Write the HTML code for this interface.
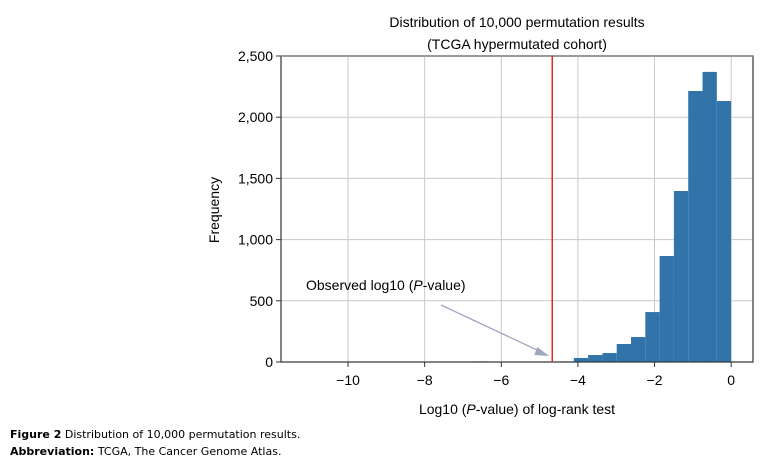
<!DOCTYPE html>
<html><head><meta charset="utf-8"><style>
body{margin:0;background:#fff;}
svg{display:block;font-family:"Liberation Sans",Arial,sans-serif;}
</style></head><body>
<svg id="chart" width="762" height="463" viewBox="0 0 762 463">
<g id="grid"></g><g id="bars"></g><g id="axes"></g>
<text x="517" y="27" font-size="14" text-anchor="middle">Distribution of 10,000 permutation results</text>
<text x="517" y="49" font-size="14" text-anchor="middle">(TCGA hypermutated cohort)</text>
<text x="517" y="414" font-size="14" text-anchor="middle">Log10 (<tspan font-style="italic">P</tspan>-value) of log-rank test</text>
<text transform="translate(219,210) rotate(-90)" font-size="14" text-anchor="middle">Frequency</text>
<text x="306" y="290" font-size="14">Observed log10 (<tspan font-style="italic">P</tspan>-value)</text>
<text x="10" y="438" font-size="11" font-family="'DejaVu Sans',sans-serif"><tspan font-weight="bold">Figure 2</tspan> Distribution of 10,000 permutation results.</text>
<text x="10" y="455" font-size="11" font-family="'DejaVu Sans',sans-serif"><tspan font-weight="bold">Abbreviation:</tspan> TCGA, The Cancer Genome Atlas.</text>
</svg>
<script>
const binStart = -11.2;
const binWidth = 0.3733;
const counts = [0,0,0,0,0,0,0,0,0,0,0,0,5,0,0,0,3,0,5,33,57,73,147,204,408,866,1397,2214,2370,2132];
const xTicks = [-10,-8,-6,-4,-2,0];
const xTickLabels = ["\u221210","\u22128","\u22126","\u22124","\u22122","0"];
const yTicks = [0,500,1000,1500,2000,2500];
const yTickLabels = ["0","500","1,000","1,500","2,000","2,500"];
const observed = [-4.67];

{
const L=281,R=753,T=56,B=362;
const xMin=-11.75,xMax=0.57,yMax=2500;
const xs=v=>L+(v-xMin)/(xMax-xMin)*(R-L);
const ys=v=>B-v/yMax*(B-T);
const NS="http://www.w3.org/2000/svg";
function mk(tag,attrs,parent,txt){const e=document.createElementNS(NS,tag);for(const k in attrs)e.setAttribute(k,attrs[k]);if(txt!==undefined)e.textContent=txt;parent.appendChild(e);return e;}
const grid=document.getElementById('grid'),bars=document.getElementById('bars'),axes=document.getElementById('axes');
xTicks.forEach((t,i)=>{
  const g=mk('line',{x1:xs(t),x2:xs(t),y1:T,y2:B,stroke:'#c8c8c8','stroke-width':1},grid);
  
  
  const tk=mk('line',{x1:xs(t),x2:xs(t),y1:B,y2:B+5,stroke:'#333'},axes);
  
  
  const lb=mk('text',{x:xs(t),y:B+23,'font-size':14,'text-anchor':'middle'},axes,xTickLabels[i]);
  
  
});
yTicks.forEach((t,i)=>{
  const g=mk('line',{x1:L,x2:R,y1:ys(t),y2:ys(t),stroke:'#c8c8c8','stroke-width':1},grid);
  
  
  const tk=mk('line',{x1:L-5,x2:L,y1:ys(t),y2:ys(t),stroke:'#333'},axes);
  
  
  const lb=mk('text',{x:L-8,y:ys(t)+5,'font-size':14,'text-anchor':'end'},axes,yTickLabels[i]);
  
  
});
counts.forEach((c,i)=>{
  if(c<=0)return;
  const x0=xs(binStart+i*binWidth),x1=xs(binStart+(i+1)*binWidth);
  const r=mk('rect',{x:x0,y:ys(c),width:x1-x0,height:B-ys(c),fill:'#3274a9'},bars);
  
  
});
const frame=mk('rect',{x:L,y:T,width:R-L,height:B-T,fill:'none',stroke:'#333','stroke-width':1.2},axes);


const topSpine=mk('line',{x1:L,x2:R,y1:T,y2:T,stroke:'#999','stroke-width':2},axes);


const rl=mk('line',{x1:xs(observed[0]),x2:xs(observed[0]),y1:T,y2:B,stroke:'#e8262a','stroke-width':1.5},axes);


const ax=xs(observed[0])-3, ay=B-6;
const ar=mk('line',{x1:441,y1:305,x2:ax-8,y2:ay-4,stroke:'#a0a8c0','stroke-width':1.3},axes);


const ah=mk('polygon',{points:`${ax},${ay} ${ax-12},${ay-9} ${ax-15},${ay-1}`,fill:'#a0a8c0'},axes);


}
</script>
</body></html>
